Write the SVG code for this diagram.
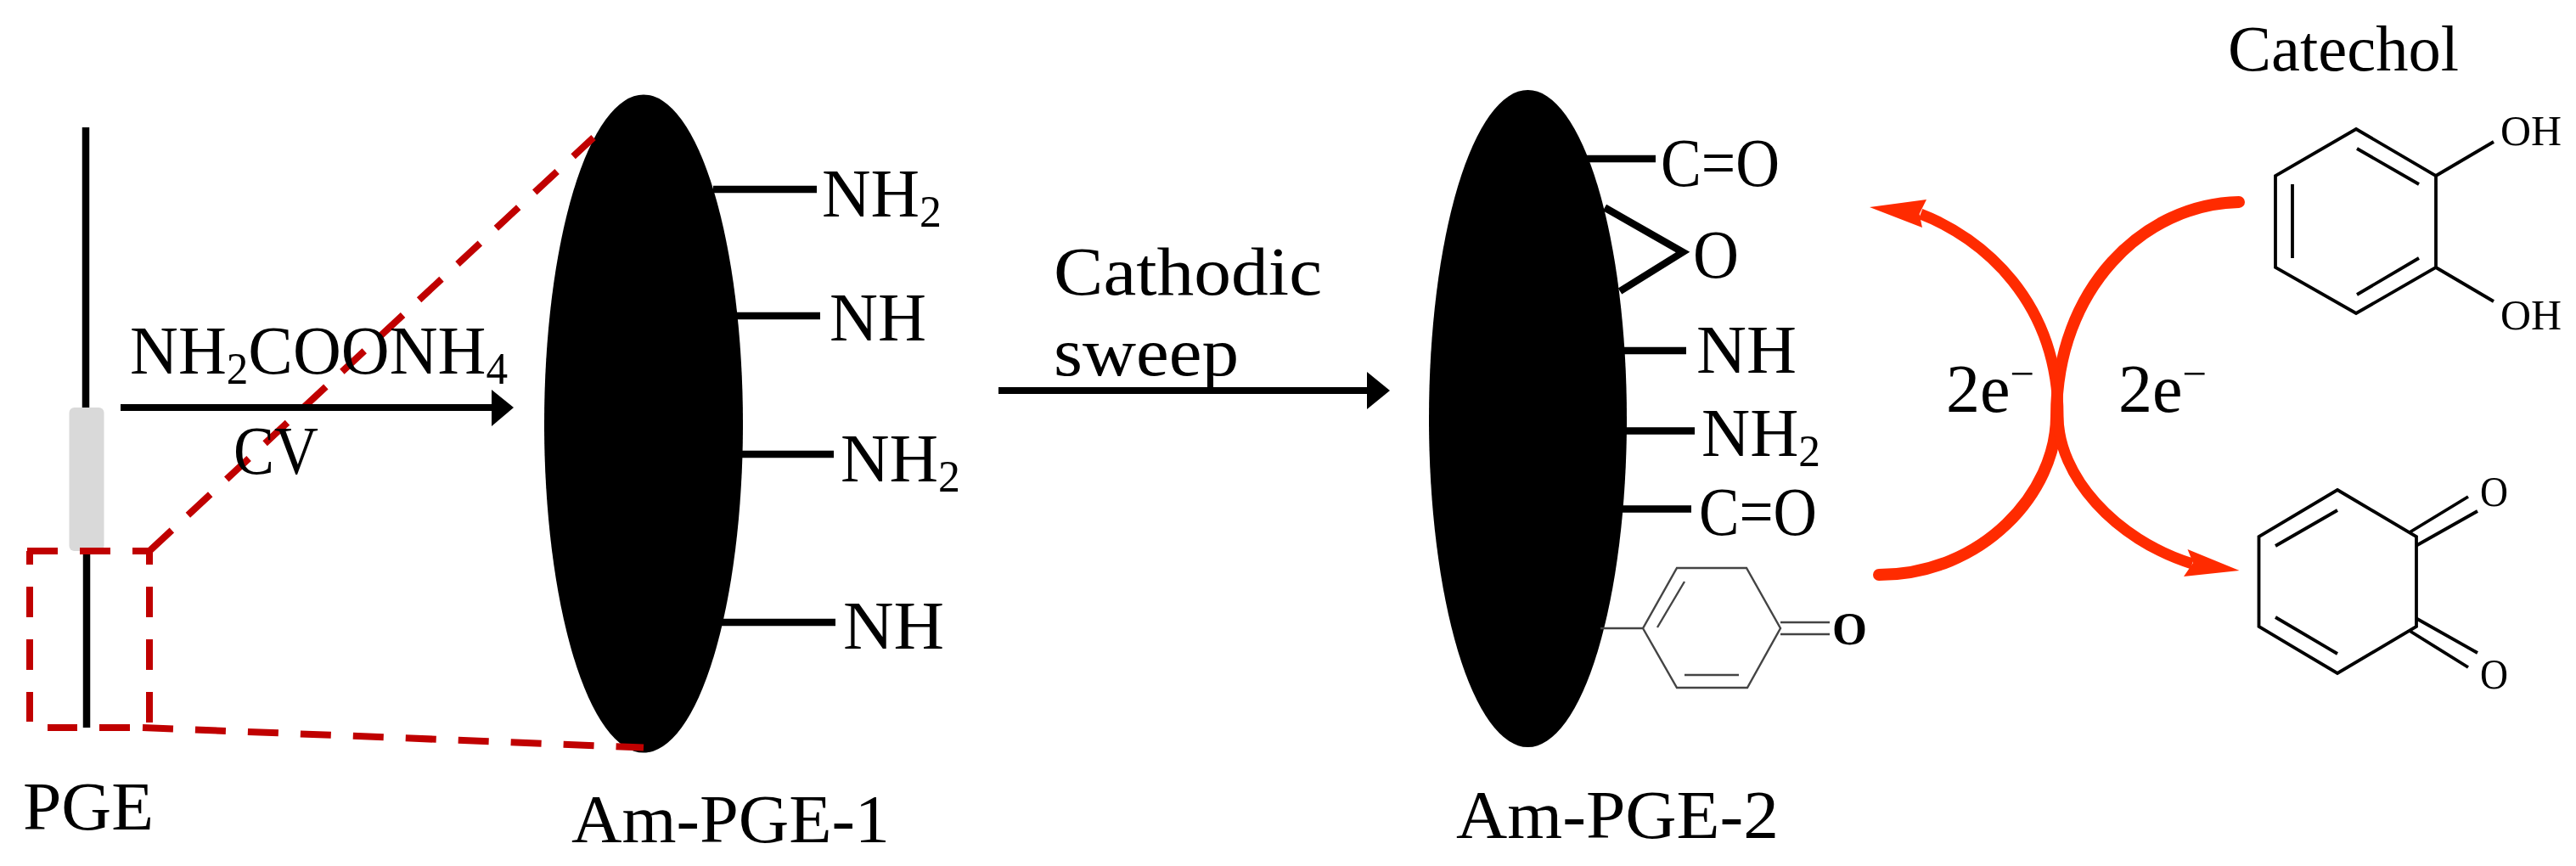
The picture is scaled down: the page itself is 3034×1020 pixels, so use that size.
<svg xmlns="http://www.w3.org/2000/svg" width="3034" height="1020" viewBox="0 0 3034 1020">
<style>
text{font-family:"Liberation Serif","Times New Roman",serif;fill:#000}
.t{font-size:80px}
.sm{font-size:51px}
.sub{font-size:52px}
.k{stroke:#000;fill:none;stroke-width:8.5}
.mol{stroke:#000;fill:none;stroke-width:3.8;stroke-linejoin:miter}
.thin{stroke:#444;fill:none;stroke-width:2.4}
.dash{stroke:#c00000;fill:none;stroke-width:8;stroke-dasharray:36 26}
.red{stroke:#ff2b00;fill:none;stroke-width:14;stroke-linecap:round}
</style>
<rect width="3034" height="1020" fill="#fff"/>

<g id="pge">
<path class="k" d="M101,150V481M102,649V857"/>
<rect x="81.5" y="480" width="41" height="169" rx="6" fill="#d9d9d9"/>
<text class="t" x="27" y="977" textLength="154" lengthAdjust="spacingAndGlyphs">PGE</text>
</g>

<g id="am-pge-1">
<ellipse cx="758" cy="499" rx="117" ry="387.5" fill="#000"/>
<path class="k" d="M840,223H962M860,372H966M860,535H982M830,733H984"/>
<text class="t" x="968" y="255" textLength="141" lengthAdjust="spacingAndGlyphs">NH<tspan class="sub" dy="12">2</tspan></text>
<text class="t" x="977" y="401" textLength="114" lengthAdjust="spacingAndGlyphs">NH</text>
<text class="t" x="990" y="567" textLength="141" lengthAdjust="spacingAndGlyphs">NH<tspan class="sub" dy="12">2</tspan></text>
<text class="t" x="993" y="764" textLength="119" lengthAdjust="spacingAndGlyphs">NH</text>
<text class="t" x="673" y="992" textLength="375" lengthAdjust="spacingAndGlyphs">Am-PGE-1</text>
</g>

<g id="connectors">
<g id="zoom-guides">
<path class="dash" d="M32,649H176" stroke-dasharray="38 27"/>
<path class="dash" d="M176,857H56" stroke-dashoffset="39"/>
<path class="dash" d="M35,649V850" stroke-dashoffset="20"/>
<path class="dash" d="M176,649V857" stroke-dashoffset="20"/>
<path class="dash" d="M176,649L699,162"/>
<path class="dash" d="M168,857L758,880.5"/>
</g>
<g id="arrow-cv">
<path d="M142,480H582" stroke="#000" stroke-width="8" fill="none"/>
<path d="M579,459L605,480L579,502Z" fill="#000"/>
</g>
<g id="arrow-sweep">
<path d="M1176,460H1612" stroke="#000" stroke-width="8" fill="none"/>
<path d="M1610,438L1637,460L1610,482Z" fill="#000"/>
</g>
<g id="redox-arrows">
<path class="red" d="M2637,238C2525,240 2422,340 2422,490C2422,580 2335,677 2213,677"/>
<path class="red" d="M2262,252C2335,280 2424,355 2424,490C2424,560 2490,635 2582,664" style="stroke-linecap:butt;stroke-width:13"/>
<path d="M2202,244L2269,235L2260.6,252L2264,268Z" fill="#ff2b00"/>
<path d="M2637.5,672L2576.5,647L2583,663L2572,679Z" fill="#ff2b00"/>
</g>
</g>

<g id="label-cv">
<text class="t" x="153" y="440" textLength="445" lengthAdjust="spacingAndGlyphs">NH<tspan class="sub" dy="12">2</tspan><tspan dy="-12">COONH</tspan><tspan class="sub" dy="12">4</tspan></text>
<text class="t" x="275" y="558" textLength="100" lengthAdjust="spacingAndGlyphs">CV</text>
</g>

<g id="label-sweep">
<text class="t" x="1241" y="347" textLength="316" lengthAdjust="spacingAndGlyphs">Cathodic</text>
<text class="t" x="1241" y="442" textLength="218" lengthAdjust="spacingAndGlyphs">sweep</text>
</g>

<g id="am-pge-2">
<ellipse cx="1799.5" cy="493" rx="116.5" ry="387" fill="#000"/>
<path class="k" d="M1860,187H1950M1890,244.5L1982,297L1908,343M1900,413H1986M1900,507.5H1996M1900,599.5H1992"/>
<text class="t" x="1956" y="219" textLength="140" lengthAdjust="spacingAndGlyphs">C=O</text>
<text class="t" x="1994" y="327" textLength="54" lengthAdjust="spacingAndGlyphs">O</text>
<text class="t" x="1998" y="439" textLength="118" lengthAdjust="spacingAndGlyphs">NH</text>
<text class="t" x="2004" y="537" textLength="140" lengthAdjust="spacingAndGlyphs">NH<tspan class="sub" dy="12">2</tspan></text>
<text class="t" x="2001" y="630" textLength="139" lengthAdjust="spacingAndGlyphs">C=O</text>
<path class="thin" d="M1885,740H1935L1975,669H2057L2097,740L2058,810H1975L1935,740M1984,685L1952,739M1984,795H2048M2097,733H2155M2097,747H2155"/>
<text x="2158" y="759" font-size="54" font-weight="700" textLength="41" lengthAdjust="spacingAndGlyphs">O</text>
<text class="t" x="1715" y="987" textLength="380" lengthAdjust="spacingAndGlyphs">Am-PGE-2</text>
</g>

<g id="electrons">
<text class="t" x="2292" y="485">2e<tspan class="sm" dy="-28">−</tspan></text>
<text class="t" x="2495" y="485">2e<tspan class="sm" dy="-28">−</tspan></text>
</g>

<g id="catechol">
<text x="2624" y="83" font-size="76" textLength="272" lengthAdjust="spacingAndGlyphs">Catechol</text>
<path class="mol" d="M2775,152L2869,207V315L2775,369L2680,315V207ZM2776,175L2849,217M2700,217V304M2776,347L2849,304M2869,207L2937,167M2869,315L2937,355"/>
<text class="sm" x="2945" y="171" textLength="72" lengthAdjust="spacingAndGlyphs">OH</text>
<text class="sm" x="2945" y="388" textLength="72" lengthAdjust="spacingAndGlyphs">OH</text>
</g>

<g id="quinone">
<path class="mol" d="M2753,577L2846,632V738L2753,793L2660.5,738V632ZM2753,601L2680,643M2680,727L2753,770M2838,627L2907,585M2847,642L2918,602M2847,729L2918,769M2838,743L2907,786"/>
<text class="sm" x="2921" y="596" textLength="33" lengthAdjust="spacingAndGlyphs">O</text>
<text class="sm" x="2921" y="811" textLength="33" lengthAdjust="spacingAndGlyphs">O</text>
</g>
</svg>
